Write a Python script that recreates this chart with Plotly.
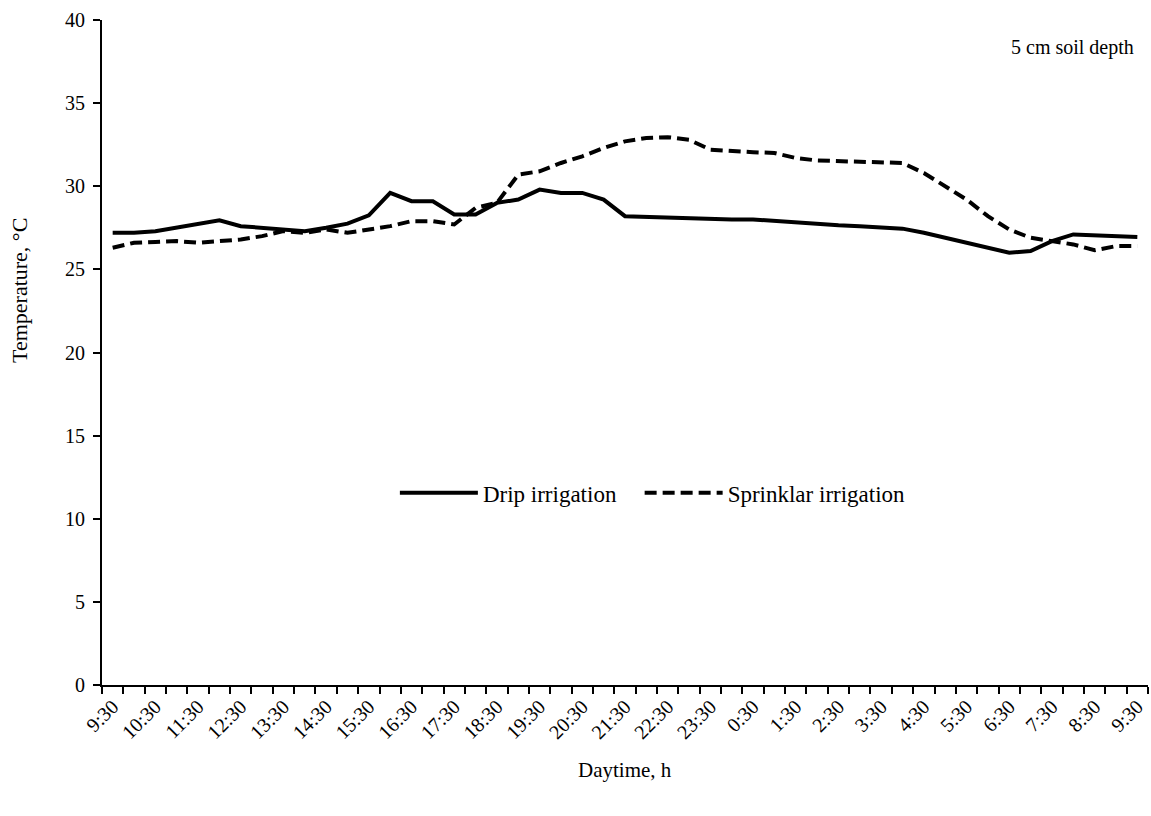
import plotly.graph_objects as go

# Half-hourly readings from 9:30 to 9:30 the next day
times = [
    "9:30", "10:00", "10:30", "11:00", "11:30", "12:00", "12:30", "13:00", "13:30", "14:00",
    "14:30", "15:00", "15:30", "16:00", "16:30", "17:00", "17:30", "18:00", "18:30", "19:00",
    "19:30", "20:00", "20:30", "21:00", "21:30", "22:00", "22:30", "23:00", "23:30", "0:00",
    "0:30", "1:00", "1:30", "2:00", "2:30", "3:00", "3:30", "4:00", "4:30", "5:00",
    "5:30", "6:00", "6:30", "7:00", "7:30", "8:00", "8:30", "9:00", "9:30",
]

drip = [
    27.2, 27.2, 27.3, 27.5, 27.7, 27.95, 27.6, 27.5, 27.4, 27.3,
    27.5, 27.75, 28.25, 29.6, 29.1, 29.1, 28.3, 28.3, 29.0, 29.2,
    29.8, 29.6, 29.6, 29.2, 28.2, 28.15, 28.1, 28.1, 28.05, 28.0,
    28.0, 27.9, 27.85, 27.7, 27.65, 27.6, 27.5, 27.45, 27.2, 26.9,
    26.6, 26.3, 26.0, 26.1, 26.7, 27.1, 27.05, 27.0, 26.95,
]

sprinkler = [
    26.3, 26.6, 26.65, 26.7, 26.6, 26.7, 26.8, 27.0, 27.3, 27.2,
    27.4, 27.2, 27.4, 27.6, 27.9, 27.9, 27.7, 28.7, 29.0, 30.7,
    30.9, 31.4, 31.8, 32.3, 32.7, 32.9, 32.95, 32.8, 32.2, 32.1,
    32.05, 32.0, 31.7, 31.55, 31.5, 31.45, 31.4, 31.4, 30.8, 30.0,
    29.2, 28.2, 27.4, 26.9, 26.7, 26.5, 26.15, 26.4, 26.4,
]

# Hourly labels shown on the axis
label_idx = list(range(0, len(times), 2))
label_txt = [times[i] for i in label_idx]

x = list(range(len(times)))
FONT = "Liberation Serif, Times New Roman, serif"

fig = go.Figure()
fig.add_trace(go.Scatter(
    x=x, y=drip, mode="lines", name="Drip irrigation",
    line=dict(color="black", width=4), legend="legend",
))
fig.add_trace(go.Scatter(
    x=x, y=sprinkler, mode="lines", name="Sprinklar irrigation",
    line=dict(color="black", width=4, dash="12px,6px"), legend="legend2",
))

legend_style = dict(
    orientation="h", y=0.289, xanchor="left", yanchor="middle",
    font=dict(family=FONT, size=23, color="black"),
    bgcolor="rgba(0,0,0,0)", itemwidth=78,
)

fig.update_layout(
    width=1151, height=816,
    margin=dict(l=102, r=3, t=20, b=131),
    paper_bgcolor="white", plot_bgcolor="white",
    font=dict(family=FONT, size=20, color="black"),
    showlegend=True,
    legend=dict(x=0.28, **legend_style),
    legend2=dict(x=0.514, **legend_style),
    xaxis=dict(
        range=[-0.5, len(times) - 0.5],
        tickmode="array", tickvals=label_idx, ticktext=label_txt,
        tickangle=-45, ticks="outside", ticklen=0,
        tickfont=dict(family=FONT, size=20, color="black"),
        showline=True, linecolor="black", linewidth=2,
        showgrid=False, zeroline=False,
        minor=dict(tickmode="linear", tick0=-0.5, dtick=1, ticks="outside",
                   ticklen=7, tickwidth=2, tickcolor="black", showgrid=False),
    ),
    yaxis=dict(
        range=[0, 40], dtick=5, tick0=0,
        ticks="outside", ticklen=7, tickwidth=2, tickcolor="black",
        tickfont=dict(family=FONT, size=20, color="black"),
        ticklabelstandoff=4,
        showline=True, linecolor="black", linewidth=2,
        showgrid=False, zeroline=False,
    ),
    annotations=[
        dict(text="5 cm soil depth", xref="paper", yref="paper", x=0.928, y=0.959,
             xanchor="center", yanchor="middle", showarrow=False,
             font=dict(family=FONT, size=20, color="black")),
        dict(text="Temperature, °C", xref="paper", yref="paper", x=-0.0784, y=0.594,
             xanchor="center", yanchor="middle", textangle=-90, showarrow=False,
             font=dict(family=FONT, size=22, color="black")),
        dict(text="Daytime, h", xref="paper", yref="paper", x=0.5, y=-0.128,
             xanchor="center", yanchor="middle", showarrow=False,
             font=dict(family=FONT, size=21, color="black")),
    ],
)

fig.write_html("out.html")
